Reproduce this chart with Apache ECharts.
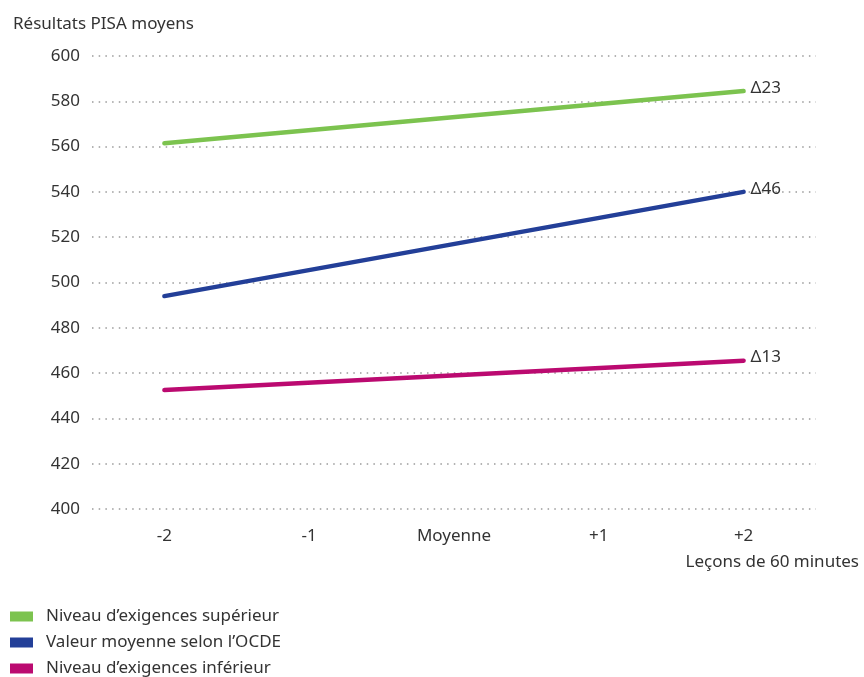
<!DOCTYPE html>
<html>
<head>
<meta charset="utf-8">
<script src="https://cdn.jsdelivr.net/npm/echarts@6/dist/echarts.min.js"></script>
<style>
  html, body { margin: 0; padding: 0; background: #fff; }
  #chart { width: 864px; height: 677px; }
</style>
</head>
<body>
<div id="chart"></div>
<script>
// Lesson-count categories on the horizontal axis
const categories = ['-2', '-1', 'Moyenne', '+1', '+2'];

// Mean PISA scores at -2 and +2 lessons for each group
const superieur = [561.5, null, null, null, 584.5];
const ocde      = [494, null, null, null, 540];
const inferieur = [452.5, null, null, null, 465.5];

// Difference labels shown at the right end of each line
const deltas = ['Δ23', 'Δ46', 'Δ13'];

const seriesNames = [
  'Niveau d’exigences supérieur',
  'Valeur moyenne selon l’OCDE',
  'Niveau d’exigences inférieur'
];
const colors = ['#7cc34f', '#233f98', '#bb0a70'];
const values = [superieur, ocde, inferieur];

const FONT = '"Noto Sans", sans-serif';
const TEXT = '#333333';
const FS = 17;

const chart = echarts.init(document.getElementById('chart'));

const series = values.map((arr, i) => ({
  name: seriesNames[i],
  type: 'line',
  data: arr,
  connectNulls: true,
  showSymbol: false,
  symbol: 'none',
  lineStyle: { color: colors[i], width: 4.5, cap: 'round' },
  itemStyle: { color: colors[i] },
  endLabel: {
    show: true,
    formatter: deltas[i],
    color: TEXT,
    fontFamily: FONT,
    fontSize: FS,
    distance: 7,
    offset: [0, -3]
  },
  silent: true
}));

// One legend block per row so the three entries stack in a single column
const legends = seriesNames.map((name, i) => ({
  data: [name],
  orient: 'vertical',
  left: 10,
  top: 608 + i * 26,
  icon: 'rect',
  itemWidth: 23,
  itemHeight: 10,
  padding: 0,
  textStyle: { color: TEXT, fontFamily: FONT, fontSize: FS, padding: [0, 0, 0, 8] },
  selectedMode: false
}));

chart.setOption({
  animation: false,
  color: colors,
  title: [
    {
      text: 'Résultats PISA moyens',
      left: 8,
      top: 11,
      textStyle: { color: TEXT, fontFamily: FONT, fontSize: FS, fontWeight: 'normal' }
    },
    {
      text: 'Leçons de 60 minutes',
      right: 0,
      top: 549,
      textStyle: { color: TEXT, fontFamily: FONT, fontSize: FS, fontWeight: 'normal' }
    }
  ],
  legend: legends,
  grid: { left: 92, right: 48, top: 56, bottom: 168 },
  xAxis: {
    type: 'category',
    data: categories,
    boundaryGap: true,
    axisLine: { show: false },
    axisTick: { show: false },
    axisLabel: { color: TEXT, fontFamily: FONT, fontSize: FS, margin: 19 }
  },
  yAxis: {
    type: 'value',
    min: 400,
    max: 600,
    interval: 20,
    axisLine: { show: false },
    axisTick: { show: false },
    axisLabel: { color: TEXT, fontFamily: FONT, fontSize: FS, margin: 12 },
    splitLine: {
      lineStyle: { color: '#9a9a9a', width: 1.5, type: [1.5, 5.2] }
    }
  },
  series: series
});
</script>
</body>
</html>
